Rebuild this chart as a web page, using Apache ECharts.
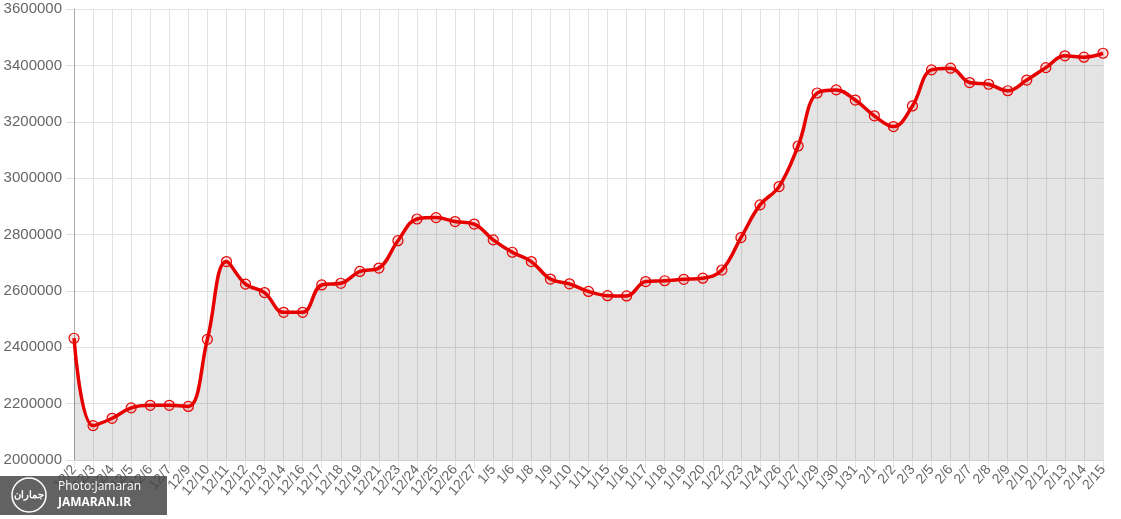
<!DOCTYPE html>
<html>
<head>
<meta charset="utf-8">
<script src="https://cdn.jsdelivr.net/npm/echarts@6/dist/echarts.min.js"></script>
<style>
html,body{margin:0;padding:0;background:#fff;}
#chart{width:1121px;height:519px;}
</style>
</head>
<body>
<div id="chart"></div>
<script>
const categories = ["12/2","12/3","12/4","12/5","12/6","12/7","12/9","12/10","12/11","12/12","12/13","12/14","12/16","12/17","12/18","12/19","12/21","12/23","12/24","12/25","12/26","12/27","1/5","1/6","1/8","1/9","1/10","1/11","1/15","1/16","1/17","1/18","1/19","1/20","1/22","1/23","1/24","1/26","1/27","1/29","1/30","1/31","2/1","2/2","2/3","2/5","2/6","2/7","2/8","2/9","2/10","2/12","2/13","2/14","2/15"];
const values = [2432000,2122000,2148000,2185000,2194000,2194000,2190000,2428000,2704000,2624000,2594000,2524000,2524000,2621000,2627000,2669000,2681000,2778000,2855000,2860000,2846000,2837000,2781000,2737000,2704000,2642000,2625000,2598000,2583000,2582000,2633000,2636000,2641000,2645000,2674000,2789000,2905000,2970000,3114000,3302000,3313000,3277000,3221000,3183000,3256000,3384000,3390000,3339000,3333000,3310000,3348000,3392000,3434000,3429000,3443000];
const yMin = 2000000, yMax = 3600000, yStep = 200000;

const chart = echarts.init(document.getElementById('chart'));
chart.setOption({
  animation: false,
  grid: {left: 74, right: 18, top: 9, bottom: 59, containLabel: false, outerBoundsMode: 'none'},
  xAxis: {
    type: 'category',
    data: categories,
    boundaryGap: false,
    axisLine: {lineStyle: {color: '#d0d0d0', width: 1}},
    axisTick: {show: true, interval: 0, length: 8, lineStyle: {color: '#e2e2e2'}},
    axisLabel: {interval: 0, rotate: 50, color: '#666', fontSize: 14, fontFamily: 'Liberation Sans, Arial, sans-serif', margin: 7},
    splitLine: {show: true, interval: 0, lineStyle: {color: '#e2e2e2', width: 1}}
  },
  yAxis: {
    type: 'value',
    min: yMin, max: yMax, interval: yStep,
    axisLine: {show: true, lineStyle: {color: '#aaa', width: 1}},
    axisTick: {show: true, length: 8, lineStyle: {color: '#e2e2e2'}},
    axisLabel: {color: '#666', fontSize: 15, fontFamily: 'Liberation Sans, Arial, sans-serif', margin: 12, formatter: v => String(v)},
    splitLine: {show: true, lineStyle: {color: '#e2e2e2', width: 1}}
  },
  series: [{
    type: 'line',
    data: values,
    smooth: 0.4,
    symbol: 'circle',
    symbolSize: 10,
    showSymbol: true,
    lineStyle: {color: '#e60000', width: 3.5},
    itemStyle: {color: 'rgba(230,0,0,0.12)', borderColor: '#e60000', borderWidth: 1.2},
    areaStyle: {color: 'rgba(0,0,0,0.105)', opacity: 1, origin: 'start'},
    z: 3
  }],
  graphic: [
    {type: 'rect', left: 0, top: 476, shape: {width: 167, height: 39}, style: {fill: 'rgba(70,70,70,0.85)'}, z: 100},
    {type: 'circle', shape: {cx: 29, cy: 495, r: 17}, style: {fill: 'none', stroke: '#fff', lineWidth: 1.5}, z: 101},
    {type: 'text', style: {x: 29, y: 495, text: 'جماران', fill: '#fff', font: 'bold 10px "Noto Sans", sans-serif', align: 'center', verticalAlign: 'middle'}, z: 101},
    {type: 'text', style: {x: 58, y: 487, text: 'Photo:Jamaran', fill: '#fff', font: '12px "Open Sans", sans-serif', verticalAlign: 'middle'}, z: 101},
    {type: 'text', style: {x: 58, y: 503, text: 'JAMARAN.IR', fill: '#fff', font: 'bold 12px "Open Sans", sans-serif', verticalAlign: 'middle'}, z: 101}
  ]
});
</script>
</body>
</html>
